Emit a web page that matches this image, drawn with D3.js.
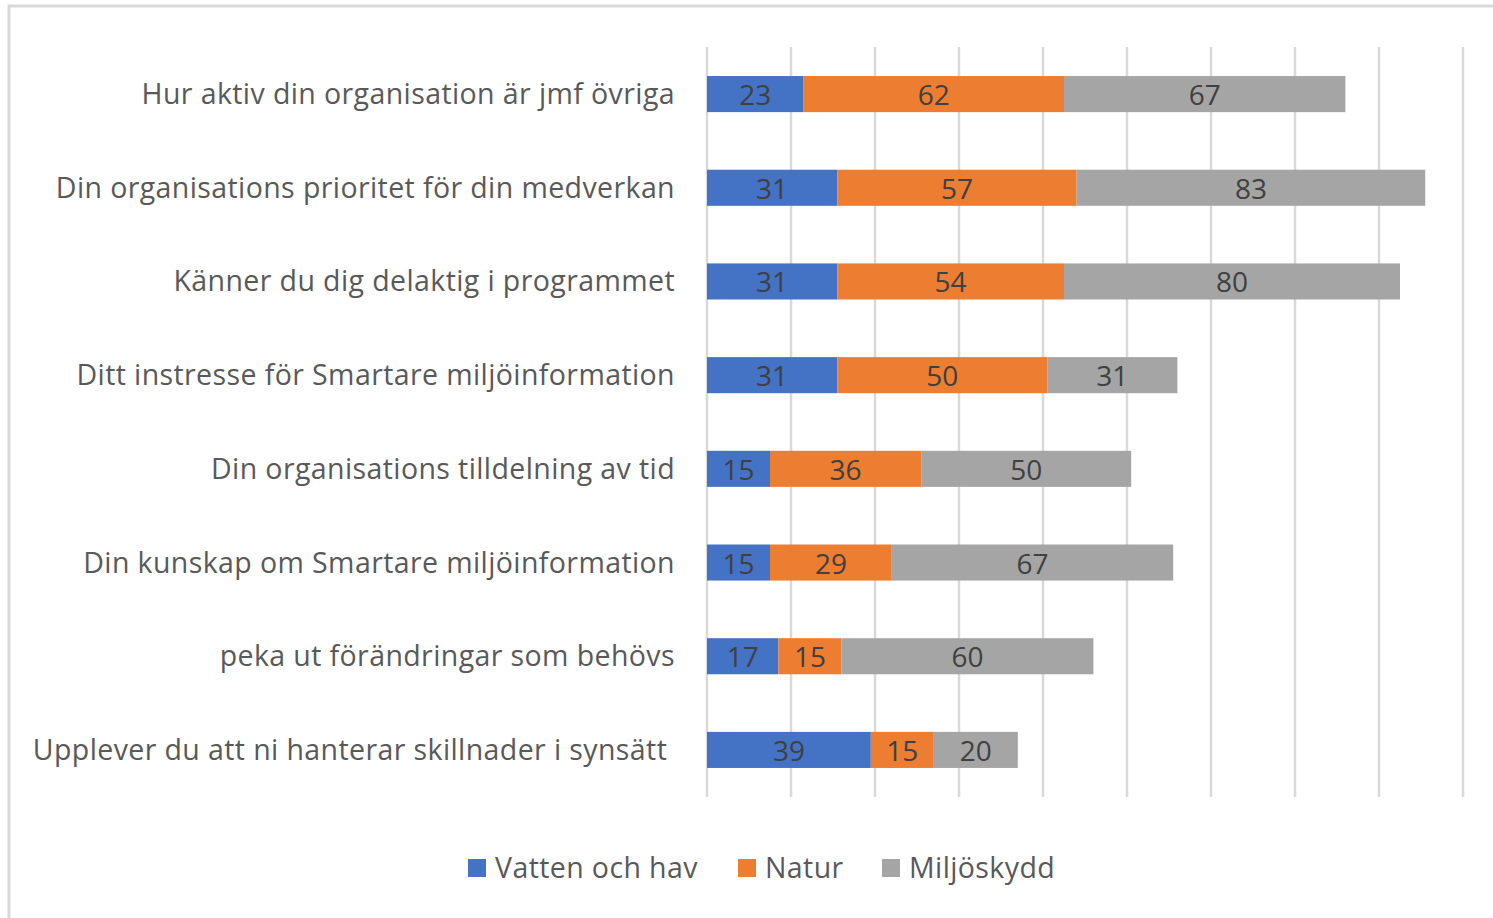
<!DOCTYPE html>
<html>
<head>
<meta charset="utf-8">
<script src="https://cdn.jsdelivr.net/npm/d3@7"></script>
<style>
  body { margin: 0; background: #fff; }
  svg text { white-space: pre; }
</style>
</head>
<body>
<div id="chart"></div>
<script>
// frågor, uppifrån och ned
var questions = [
  "Hur aktiv din organisation är jmf övriga",
  "Din organisations prioritet för din medverkan",
  "Känner du dig delaktig i programmet",
  "Ditt instresse för Smartare miljöinformation",
  "Din organisations tilldelning av tid",
  "Din kunskap om Smartare miljöinformation",
  "peka ut förändringar som behövs",
  "Upplever du att ni hanterar skillnader i synsätt "
];
var seriesNames = ["Vatten och hav", "Natur", "Miljöskydd"];
var vatten = [23, 31, 31, 31, 15, 15, 17, 39];
var natur = [62, 57, 54, 50, 36, 29, 15, 15];
var miljo = [67, 83, 80, 31, 50, 67, 60, 20];
var xTicks = [0, 20, 40, 60, 80, 100, 120, 140, 160, 180];
var colors = ["#4472C4", "#ED7D31", "#A5A5A5"];

var W = 1493, H = 918;
var margin = { left: 707, right: 30, top: 47, bottom: 121 };

var svg = d3.select("#chart").append("svg")
  .attr("width", W).attr("height", H)
  .attr("font-family", "'Open Sans', Lato, sans-serif");

// ram runt diagrammet
svg.append("rect")
  .attr("x", 9).attr("y", 6)
  .attr("width", W + 20).attr("height", H + 20)
  .attr("fill", "none").attr("stroke", "#d9d9d9").attr("stroke-width", 3);

var x = d3.scaleLinear().domain([0, 180]).range([margin.left, 1463]);
var y = d3.scaleBand().domain(questions).range([margin.top, H - margin.bottom]).paddingInner(0.615).paddingOuter(0.31);

// rutnät
svg.append("g").selectAll("line").data(xTicks).enter().append("line")
  .attr("x1", d => x(d)).attr("x2", d => x(d))
  .attr("y1", margin.top).attr("y2", H - margin.bottom)
  .attr("stroke", "#d9d9d9").attr("stroke-width", 2.5);

var rows = questions.map((q, i) => ({ q: q, vals: [vatten[i], natur[i], miljo[i]] }));
var stacked = d3.stack().keys([0, 1, 2]).value((d, k) => d.vals[k])(rows);

var layer = svg.append("g").selectAll("g").data(stacked).enter().append("g")
  .attr("fill", (d, i) => colors[i]);

layer.selectAll("rect").data(d => d).enter().append("rect")
  .attr("x", d => x(d[0]))
  .attr("y", d => y(d.data.q))
  .attr("width", d => x(d[1]) - x(d[0]))
  .attr("height", y.bandwidth());

layer.selectAll("text").data(d => d).enter().append("text")
  .attr("x", d => (x(d[0]) + x(d[1])) / 2)
  .attr("y", d => y(d.data.q) + y.bandwidth() / 2 + 11)
  .attr("text-anchor", "middle")
  .attr("font-size", 28)
  .attr("fill", "#404040")
  .text(d => d[1] - d[0]);

// kategorietiketter
svg.append("g").selectAll("text").data(questions).enter().append("text")
  .attr("x", 675)
  .attr("y", d => y(d) + y.bandwidth() / 2 + 10)
  .attr("text-anchor", "end")
  .attr("font-size", 28.5)
  .attr("letter-spacing", 0.4)
  .attr("fill", "#595959")
  .text(d => d);

// förklaring
var legX = [468, 738, 882];
var leg = svg.append("g").selectAll("g").data(seriesNames).enter().append("g")
  .attr("transform", (d, i) => "translate(" + legX[i] + ",859)");
leg.append("rect").attr("width", 18).attr("height", 18).attr("fill", (d, i) => colors[i]);
leg.append("text").attr("x", 27).attr("y", 19)
  .attr("font-size", 28.5).attr("letter-spacing", 0.4)
  .attr("fill", "#595959").text(d => d);
</script>
</body>
</html>
